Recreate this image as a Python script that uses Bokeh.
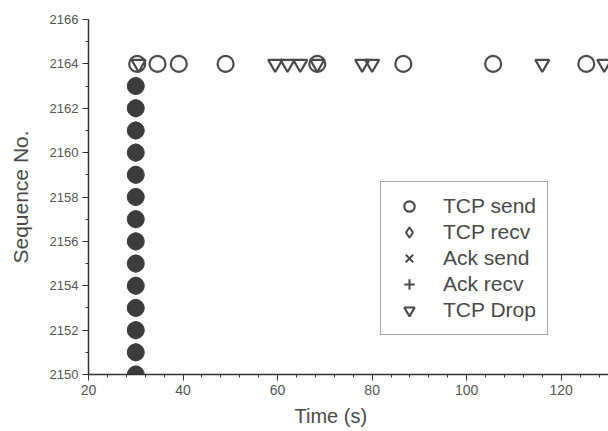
from bokeh.plotting import figure
from bokeh.models import SingleIntervalTicker, Legend, LegendItem, Title, Range1d
from bokeh.embed import file_html
from bokeh.resources import INLINE

# ---- data ----
# segments sent, received and acknowledged at t = 30 s (overlapping markers)
acked_seq = [2150, 2151, 2152, 2153, 2154, 2155, 2156, 2157, 2158, 2159, 2160, 2161, 2162, 2163]
acked_time = [30, 30, 30, 30, 30, 30, 30, 30, 30, 30, 30, 30, 30, 30]

# retransmissions of segment 2164
send_time = [30.3, 34.6, 39.1, 49.0, 68.4, 86.6, 105.6, 125.3]
send_seq = [2164, 2164, 2164, 2164, 2164, 2164, 2164, 2164]

drop_time = [30.6, 59.5, 62.1, 64.8, 68.4, 77.9, 80.0, 116.0, 129.1]
drop_seq = [2164, 2164, 2164, 2164, 2164, 2164, 2164, 2164, 2164]

x_ticks_interval = 20
y_ticks_interval = 2

FONT = "Liberation Sans"
INK = "#4a4a4a"

p = figure(width=608, height=431, output_backend="svg", toolbar_location=None,
           x_range=Range1d(20, 130), y_range=Range1d(2150, 2166),
           min_border_left=88, min_border_right=0, min_border_top=19, min_border_bottom=57)
p.outline_line_color = None
p.xgrid.visible = False
p.ygrid.visible = False
p.background_fill_color = "white"

# overlapping recv / ack markers at t=30
r_recv = p.scatter(acked_time, acked_seq, marker="diamond", size=17, fill_color=None,
                   line_color=INK, line_width=2)
r_acks = p.scatter(acked_time, acked_seq, marker="x", size=14, line_color=INK, line_width=2)
r_ackr = p.scatter(acked_time, acked_seq, marker="cross", size=14, line_color=INK, line_width=2)
p.scatter(acked_time, acked_seq, marker="circle", size=17, fill_color="#3c3c3c",
          line_color="#3c3c3c", line_width=1)

r_send = p.scatter(send_time, send_seq, marker="circle", size=16, fill_color=None,
                   line_color=INK, line_width=2.2)
r_drop = p.scatter(drop_time, drop_seq, marker="inverted_triangle", size=14, fill_color=None,
                   line_color=INK, line_width=2.2)

# axes
p.xaxis.ticker = SingleIntervalTicker(interval=x_ticks_interval, num_minor_ticks=5)
p.yaxis.ticker = SingleIntervalTicker(interval=y_ticks_interval, num_minor_ticks=2)
for ax in (p.xaxis[0], p.yaxis[0]):
    ax.axis_line_color = "#333333"
    ax.axis_line_width = 1.5
    ax.major_tick_line_color = "#333333"
    ax.minor_tick_line_color = "#333333"
    ax.major_tick_in = 0
    ax.major_tick_out = 6
    ax.minor_tick_in = 0
    ax.minor_tick_out = 3
    ax.major_label_text_font = FONT
    ax.major_label_text_color = "#555555"
p.xaxis.major_label_text_font_size = "14px"
p.yaxis.major_label_text_font_size = "13px"
p.yaxis.major_label_standoff = 4
p.xaxis.major_label_standoff = 4

p.yaxis.axis_label = "Sequence No."
p.yaxis.axis_label_text_font = FONT
p.yaxis.axis_label_text_font_size = "21px"
p.yaxis.axis_label_text_font_style = "normal"
p.yaxis.axis_label_text_color = INK
p.yaxis.axis_label_standoff = 15

xtitle = Title(text="Time (s)", align="left", offset=206,
               text_font=FONT, text_font_size="20px", text_font_style="normal",
               text_color=INK)
p.add_layout(xtitle, "below")

legend = Legend(items=[
    LegendItem(label="TCP send", renderers=[r_send]),
    LegendItem(label="TCP recv", renderers=[r_recv]),
    LegendItem(label="Ack send", renderers=[r_acks]),
    LegendItem(label="Ack recv", renderers=[r_ackr]),
    LegendItem(label="TCP Drop", renderers=[r_drop]),
], location=(292, 39))
legend.margin = 0
legend.padding = 11
legend.spacing = 0
legend.glyph_height = 26
legend.glyph_width = 34
legend.label_height = 26
legend.label_standoff = 17
legend.label_text_font = FONT
legend.label_text_font_size = "21px"
legend.label_text_color = INK
legend.border_line_color = "#555555"
legend.border_line_width = 1.5
legend.background_fill_alpha = 1
p.add_layout(legend)

open("out.html", "w").write(file_html(p, INLINE))
